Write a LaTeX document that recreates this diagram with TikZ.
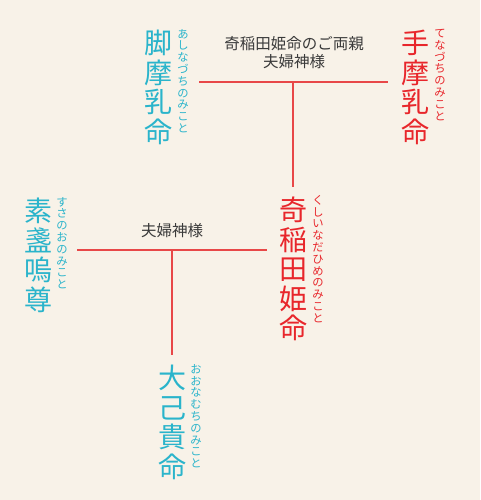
\documentclass[tikz,border=0pt]{standalone}
\usepackage{fontspec}
\newfontfamily\jp{Noto Sans CJK JP}
\definecolor{bgc}{HTML}{F8F2E8}
\definecolor{cy}{HTML}{2AB4CB}
\definecolor{rd}{HTML}{E8262B}
\definecolor{ln}{HTML}{E84848}
\definecolor{gr}{HTML}{3A3A3A}
\tikzset{
  big/.style={inner sep=0pt, anchor=north, align=center, font=\jp\fontsize{28}{29.5}\selectfont},
  ruby/.style={inner sep=0pt, anchor=north, align=center, font=\jp\fontsize{11.3}{11.8}\selectfont},
  lbl/.style={inner sep=0pt, align=center, text=gr, font=\jp\fontsize{15.5}{18}\selectfont},
  link/.style={draw=ln, line width=1.3pt}
}
\begin{document}
\begin{tikzpicture}[x=1pt,y=-1pt]
\fill[bgc] (0,0) rectangle (480,500);
\useasboundingbox (0,0) rectangle (480,500);
% parents
\node[big,text=cy] (ashi) at (158,30) {脚\\摩\\乳\\命};
\node[ruby,text=cy] (ashir) at (183,29) {あ\\し\\な\\づ\\ち\\の\\み\\こ\\と};
\node[big,text=rd] (te) at (415,30) {手\\摩\\乳\\命};
\node[ruby,text=rd] (ter) at (440,29) {て\\な\\づ\\ち\\の\\み\\こ\\と};
\node[lbl] (toplbl) at (294,53) {奇稲田姫命のご両親\\夫婦神様};
% daughter
\node[big,text=rd] (kushi) at (293,197) {奇\\稲\\田\\姫\\命};
\node[ruby,text=rd] (kushir) at (318,195) {く\\し\\い\\な\\だ\\ひ\\め\\の\\み\\こ\\と};
% susanoo
\node[big,text=cy] (susa) at (38,198) {素\\盞\\嗚\\尊};
\node[ruby,text=cy] (susar) at (62,197) {す\\さ\\の\\お\\の\\み\\こ\\と};
\node[lbl] (midlbl) at (172,231) {夫婦神様};
% child
\node[big,text=cy] (oo) at (172,365) {大\\己\\貴\\命};
\node[ruby,text=cy] (oor) at (196,364) {お\\お\\な\\む\\ち\\の\\み\\こ\\と};
% connectors
\coordinate (t1) at (199,82);
\coordinate (t2) at (388,82);
\coordinate (tm) at (293,82);
\coordinate (tb) at (293,187);
\draw[link] (t1) -- (t2);
\draw[link] (tm) -- (tb);
\coordinate (m1) at (77,250);
\coordinate (m2) at (267,250);
\coordinate (mm) at (172,250);
\coordinate (mb) at (172,355);
\draw[link] (m1) -- (m2);
\draw[link] (mm) -- (mb);
\end{tikzpicture}
\end{document}
